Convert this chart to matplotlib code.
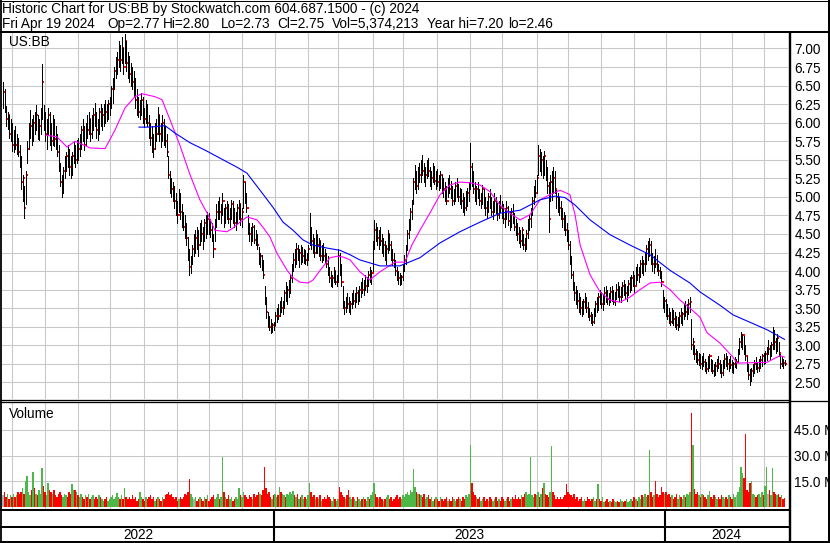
import numpy as np
import pandas as pd
import matplotlib
matplotlib.use('Agg')
import matplotlib.pyplot as plt
from matplotlib.lines import Line2D

W, H = 830, 543
plt.rcParams['font.family'] = ['Liberation Sans', 'DejaVu Sans']
FS = 9.8

first_day = '2022-04-22'

# daily bars, US:BB  (high / low / close)
hi_2022 = [6.55,6.45,6.22,6.15,6.10,6.05,6.00,5.90,5.95,5.85,5.80,5.70,5.55,5.30,5.15,5.35,5.75,6.00,6.17,6.05,
           6.10,6.15,6.24,6.10,6.05,6.20,6.79,6.24,6.15,6.05,6.20,6.15,6.00,6.10,6.05,5.95,5.85,5.70,5.45,5.30,
           5.40,5.55,5.60,5.70,5.65,5.55,5.60,5.75,5.70,5.77,5.80,5.85,5.95,6.05,5.95,6.00,6.10,6.14,6.05,6.10,
           6.20,6.27,6.15,6.05,6.20,6.25,6.20,6.25,6.31,6.25,6.30,6.35,6.50,6.60,6.75,6.89,6.95,7.10,7.05,7.15,
           7.00,7.20,7.10,6.95,6.90,6.80,6.75,6.70,6.60,6.45,6.35,6.30,6.40,6.35,6.20,6.30,6.25,6.10,6.00,5.95,
           5.85,6.00,6.05,6.21,6.10,6.00,6.10,6.05,5.95,5.85,5.55,5.35,5.25,5.20,5.15,5.05,4.95,5.10,5.05,4.90,
           4.80,4.75,4.65,4.46,4.30,4.20,4.35,4.50,4.55,4.60,4.55,4.65,4.69,4.60,4.70,4.75,4.80,4.78,4.70,4.65,
           4.50,4.70,4.90,4.95,5.00,4.90,5.05,4.85,4.90,4.95,4.90,4.85,4.96,4.95,4.85,4.80,4.90,4.96,4.90,4.85,
           5.30,5.20,5.05,4.75,4.65,4.60,4.65,4.62,4.55,4.50,4.32,4.25,4.22,4.15,3.80,3.65,3.45,3.40,3.35,3.30,
           3.32]
lo_2022 = [6.20,6.15,5.95,5.92,5.80,5.75,5.62,5.60,5.65,5.58,5.55,5.40,5.10,4.95,4.72,4.90,5.45,5.65,5.80,5.70,
           5.75,5.85,5.90,5.78,5.77,5.85,6.05,5.90,5.75,5.65,5.85,5.70,5.63,5.70,5.68,5.65,5.55,5.35,5.15,5.00,
           5.05,5.25,5.35,5.40,5.30,5.25,5.30,5.45,5.40,5.45,5.50,5.55,5.65,5.75,5.63,5.70,5.80,5.85,5.75,5.80,
           5.90,5.95,5.80,5.77,5.85,5.95,5.90,5.95,6.00,6.02,6.05,6.10,6.20,6.27,6.45,6.60,6.65,6.75,6.70,6.80,
           6.65,6.80,6.70,6.60,6.55,6.50,6.45,6.35,6.20,6.10,6.08,6.05,6.10,6.00,5.94,6.00,5.95,5.80,5.70,5.60,
           5.54,5.65,5.75,5.85,5.75,5.67,5.75,5.70,5.67,5.55,5.25,5.05,5.00,4.95,4.85,4.75,4.65,4.80,4.70,4.60,
           4.55,4.45,4.35,4.15,3.95,3.97,4.10,4.20,4.25,4.30,4.20,4.35,4.40,4.30,4.40,4.45,4.50,4.50,4.46,4.40,
           4.19,4.40,4.60,4.70,4.70,4.65,4.75,4.60,4.65,4.70,4.65,4.60,4.70,4.65,4.60,4.55,4.65,4.70,4.62,4.60,
           4.85,4.92,4.80,4.50,4.40,4.35,4.40,4.38,4.35,4.30,4.10,4.05,4.01,3.90,3.55,3.37,3.25,3.20,3.17,3.18,
           3.20]
cl_2022 = [6.41,6.20,6.05,6.10,5.85,5.95,5.70,5.80,5.70,5.75,5.60,5.45,5.20,5.25,4.85,5.30,5.65,5.90,5.95,5.85,
           6.00,5.95,6.10,5.85,5.95,6.10,6.55,6.00,5.85,5.95,6.10,5.80,5.75,6.00,5.78,5.70,5.60,5.40,5.20,5.10,
           5.35,5.45,5.55,5.50,5.40,5.35,5.55,5.60,5.50,5.70,5.65,5.80,5.90,5.85,5.70,5.95,5.90,6.05,5.85,6.00,
           6.10,6.05,5.90,5.85,6.15,6.05,6.10,6.20,6.15,6.10,6.25,6.30,6.45,6.55,6.70,6.80,6.85,6.95,6.85,7.00,
           6.75,7.10,6.80,6.70,6.65,6.60,6.55,6.45,6.30,6.20,6.15,6.25,6.30,6.10,6.05,6.20,6.00,5.90,5.80,5.70,
           5.65,5.90,5.85,6.10,5.85,5.80,6.00,5.80,5.75,5.60,5.30,5.15,5.10,5.05,4.95,4.85,4.75,5.00,4.80,4.70,
           4.60,4.55,4.45,4.25,4.05,4.15,4.30,4.30,4.45,4.40,4.35,4.55,4.50,4.45,4.65,4.55,4.70,4.60,4.55,4.45,
           4.30,4.65,4.80,4.85,4.80,4.85,4.95,4.70,4.85,4.80,4.70,4.80,4.90,4.75,4.65,4.75,4.85,4.90,4.70,4.80,
           5.20,5.00,4.85,4.55,4.50,4.45,4.60,4.42,4.40,4.35,4.15,4.20,4.05,3.95,3.60,3.45,3.30,3.25,3.22,3.28,
           3.26]
hi_2023 = [3.45,3.50,3.55,3.60,3.65,3.60,3.75,3.85,3.80,3.88,3.95,4.10,4.25,4.30,4.38,4.35,4.30,4.35,4.32,4.30,
           4.28,4.25,4.35,4.78,4.60,4.50,4.45,4.55,4.50,4.45,4.40,4.35,4.38,4.30,4.25,4.20,4.05,4.00,3.95,4.06,
           4.00,3.95,4.30,4.24,4.10,3.80,3.60,3.65,3.70,3.65,3.60,3.70,3.75,3.70,3.78,3.75,3.80,3.85,3.90,3.88,
           3.95,3.92,4.00,4.05,4.01,4.40,4.69,4.65,4.60,4.55,4.60,4.50,4.45,4.40,4.35,4.55,4.50,4.40,4.30,4.25,
           4.15,4.05,4.00,3.98,3.95,4.10,4.21,4.35,4.55,4.70,4.85,4.96,5.25,5.43,5.35,5.40,5.45,5.50,5.56,5.45,
           5.40,5.50,5.52,5.40,5.35,5.45,5.42,5.35,5.38,5.30,5.35,5.30,5.25,5.20,5.15,5.25,5.30,5.22,5.15,5.10,
           5.20,5.25,5.18,5.12,5.10,5.05,5.00,5.08,5.12,5.20,5.72,5.45,5.35,5.20,5.15,5.20,5.10,5.05,5.16,5.10,
           5.00,4.95,5.05,5.10,5.00,4.95,5.05,5.00,4.92,4.95,5.02,4.95,4.90,4.85,4.95,4.88,4.80,4.85,4.90,4.78,
           4.70,4.65,4.60,4.55,4.60,4.50,4.45,4.55,4.70,4.76,4.85,5.00,5.15,5.23,5.30,5.70,5.65,5.60,5.55,5.62,
           5.50,5.40,5.20,5.30,5.35,5.40,5.35,5.09,5.05,5.00,4.95,4.85,4.80,4.75,4.65,4.55,4.40,4.20,4.00,3.85,
           3.80,3.75,3.70,3.65,3.60,3.62,3.70,3.65,3.58,3.50,3.45,3.42,3.50,3.60,3.65,3.70,3.75,3.72,3.68,3.78,
           3.80,3.75,3.70,3.78,3.80,3.75,3.72,3.82,3.85,3.80,3.78,3.85,3.88,3.82,3.80,3.88,3.92,3.95,4.00,3.95,
           4.05,4.10,4.05,4.15,4.20,4.15,4.25,4.35,4.40,4.45,4.40,4.25,4.20,4.30,4.21,4.10,4.05,4.00,3.75,3.65]
lo_2023 = [3.28,3.32,3.35,3.40,3.45,3.42,3.50,3.60,3.55,3.65,3.70,3.85,4.00,4.05,4.10,4.15,4.05,4.10,4.12,4.11,
           4.10,4.08,4.15,4.35,4.30,4.25,4.19,4.25,4.25,4.20,4.15,4.12,4.15,4.11,4.05,3.95,3.85,3.80,3.79,3.85,
           3.82,3.80,3.85,3.95,3.80,3.50,3.42,3.45,3.50,3.45,3.42,3.50,3.55,3.52,3.58,3.55,3.60,3.65,3.70,3.68,
           3.75,3.72,3.80,3.85,3.82,4.00,4.30,4.40,4.35,4.30,4.35,4.25,4.20,4.15,4.10,4.25,4.28,4.15,4.08,4.05,
           3.95,3.88,3.82,3.81,3.82,3.88,4.00,4.10,4.28,4.45,4.55,4.70,4.90,5.10,5.05,5.10,5.20,5.20,5.30,5.20,
           5.15,5.25,5.28,5.15,5.10,5.20,5.18,5.10,5.15,5.09,5.12,5.05,5.00,4.95,4.90,5.00,5.05,4.98,4.89,4.90,
           4.95,5.00,4.95,4.90,4.85,4.80,4.76,4.82,4.88,4.95,5.10,5.15,5.05,4.95,4.90,4.98,4.89,4.85,4.90,4.85,
           4.75,4.72,4.80,4.85,4.75,4.70,4.80,4.78,4.69,4.72,4.80,4.72,4.65,4.60,4.70,4.62,4.55,4.60,4.65,4.55,
           4.48,4.42,4.38,4.32,4.35,4.30,4.27,4.30,4.45,4.55,4.60,4.75,4.90,5.00,5.05,5.30,5.35,5.30,5.25,5.30,
           5.23,5.05,4.52,4.95,4.96,5.05,5.05,4.85,4.80,4.76,4.70,4.60,4.55,4.49,4.40,4.30,4.10,3.90,3.75,3.61,
           3.55,3.50,3.45,3.42,3.40,3.42,3.50,3.45,3.38,3.34,3.30,3.28,3.30,3.40,3.45,3.48,3.55,3.50,3.48,3.55,
           3.58,3.55,3.54,3.58,3.60,3.55,3.54,3.62,3.65,3.60,3.58,3.65,3.68,3.62,3.60,3.68,3.72,3.75,3.80,3.72,
           3.82,3.88,3.85,3.92,3.98,3.95,4.00,4.10,4.15,4.20,4.10,4.00,3.98,4.05,4.00,3.95,3.90,3.80,3.50,3.45]
cl_2023 = [3.40,3.45,3.40,3.55,3.50,3.55,3.70,3.65,3.75,3.80,3.90,4.05,4.15,4.10,4.30,4.20,4.25,4.15,4.20,4.25,
           4.15,4.20,4.30,4.55,4.40,4.30,4.25,4.45,4.35,4.40,4.20,4.30,4.20,4.15,4.10,4.00,3.90,3.85,3.90,4.00,
           3.85,3.92,4.20,4.05,3.85,3.55,3.50,3.60,3.55,3.50,3.55,3.65,3.60,3.65,3.70,3.62,3.75,3.80,3.75,3.85,
           3.80,3.88,3.95,3.90,3.98,4.35,4.55,4.50,4.45,4.50,4.40,4.30,4.35,4.20,4.30,4.50,4.35,4.20,4.15,4.10,
           4.00,3.95,3.90,3.85,3.92,4.05,4.15,4.30,4.50,4.65,4.80,4.90,5.20,5.30,5.15,5.35,5.30,5.40,5.35,5.25,
           5.30,5.45,5.35,5.20,5.25,5.40,5.22,5.30,5.20,5.15,5.30,5.15,5.10,5.00,4.95,5.20,5.10,5.05,4.95,5.05,
           5.15,5.10,5.00,5.05,4.95,4.90,4.85,5.00,5.05,5.10,5.40,5.25,5.10,5.00,5.10,5.05,4.95,5.00,5.10,4.90,
           4.85,4.80,5.00,4.95,4.80,4.85,4.95,4.85,4.75,4.90,4.85,4.80,4.70,4.75,4.85,4.68,4.65,4.80,4.70,4.60,
           4.55,4.50,4.45,4.40,4.55,4.35,4.32,4.50,4.65,4.70,4.80,4.95,5.10,5.05,5.25,5.55,5.45,5.50,5.35,5.55,
           5.30,5.15,4.70,5.20,5.30,5.25,5.10,5.00,4.90,4.85,4.80,4.70,4.65,4.55,4.45,4.35,4.15,3.95,3.80,3.70,
           3.62,3.60,3.55,3.50,3.45,3.58,3.60,3.50,3.42,3.40,3.35,3.32,3.45,3.55,3.50,3.65,3.60,3.55,3.62,3.70,
           3.65,3.62,3.60,3.72,3.65,3.58,3.68,3.75,3.70,3.65,3.72,3.80,3.75,3.70,3.78,3.82,3.85,3.90,3.85,3.80,
           4.00,3.95,4.00,4.10,4.05,4.10,4.20,4.30,4.25,4.35,4.15,4.10,4.15,4.10,4.05,4.00,3.95,3.85,3.55,3.60]
hi_2024 = [3.62,3.55,3.50,3.45,3.50,3.48,3.45,3.40,3.38,3.45,3.50,3.45,3.55,3.60,3.55,3.62,3.65,3.35,3.10,3.00,
           2.95,2.92,2.90,2.88,2.85,2.90,2.82,2.78,2.85,2.88,2.82,2.80,2.75,2.78,2.82,2.85,2.80,2.75,2.80,2.88,
           2.90,2.85,2.82,2.86,2.80,2.78,2.84,2.82,2.95,3.10,3.18,3.15,3.12,3.00,2.85,2.75,2.68,2.70,2.75,2.80,
           2.84,2.78,2.82,2.85,2.88,2.90,2.92,2.98,3.07,3.00,3.05,3.25,3.20,3.10,3.15,3.05,2.88,2.85,2.82,2.80]
lo_2024 = [3.40,3.35,3.30,3.27,3.30,3.28,3.25,3.22,3.21,3.25,3.30,3.28,3.35,3.40,3.35,3.42,3.45,2.95,2.88,2.82,
           2.78,2.75,2.73,2.70,2.68,2.72,2.65,2.62,2.66,2.70,2.65,2.62,2.58,2.60,2.66,2.70,2.62,2.57,2.60,2.70,
           2.72,2.68,2.65,2.70,2.64,2.62,2.71,2.70,2.78,2.88,2.98,2.95,2.88,2.80,2.65,2.55,2.46,2.52,2.58,2.63,
           2.68,2.64,2.66,2.70,2.72,2.75,2.76,2.80,2.88,2.82,2.85,2.95,2.95,2.90,2.92,2.85,2.70,2.72,2.70,2.73]
cl_2024 = [3.45,3.40,3.35,3.32,3.45,3.35,3.30,3.28,3.30,3.40,3.35,3.42,3.50,3.45,3.50,3.55,3.58,3.00,3.05,2.88,
           2.85,2.80,2.85,2.75,2.80,2.78,2.70,2.68,2.80,2.85,2.72,2.65,2.62,2.72,2.78,2.75,2.66,2.62,2.75,2.82,
           2.80,2.75,2.78,2.74,2.70,2.75,2.78,2.78,2.90,3.05,3.12,3.14,2.95,2.85,2.70,2.60,2.55,2.65,2.70,2.75,
           2.72,2.70,2.78,2.80,2.85,2.82,2.88,2.95,2.95,2.90,3.00,3.15,3.05,2.95,3.10,2.90,2.75,2.80,2.76,2.75]

# daily volume, millions of shares
vol_2022 = [7,9,6,8,5,7,6,8,6,7,9,8, 9,11.5,8,15.4,18.3,9,7,10,20.6,11.5,8,7, 10,8,22.5,12.5,9,7,14,10,9,8,10,7,
            6,8,9,7,6,8,7,6,9,8,13.5,10, 10,9,7,6,8,6,5,7,6,8,5,6, 7,5,6,5,7,6,5,4,5,6,4,5,
            6,7,5,6,8.5,6,5,7,5,11,6,5, 6,5,7,5,6,4,5,9,6,5,4,6, 5,6,7,5,6,4,5,6,5,4,6,5,
            7,8,9,7,8,6,5,6,4,5,6,5, 6,8,7,9,16.7,8,6,5,6,4,5,6, 5,4,6,5,7,4,5,6,7,5,6,8,
            5,6,29.3,9,6,5,7,5,6,4,5,6, 5,11,7,6,9,7,6,5,7,6,5,8, 6,7,9,8,7,10,23.5,11,8,9,6,5,7]
vol_2023 = [8,6,7,12,9,8,7,6,8,7,9,8, 9.5,7,6,8,5,6,7,5,6,5,7,14, 9,6,7,5,6,5,7,4,5,6,5,7,
            6,5,4,6,5,4,5,12,9,7,6,5, 7,10,6,5,6,5,4,6,5,4,5,6, 5,4,6,5,7,9,14,8,6,5,6,5,
            4,5,6,7,5,6,4,5,6,7,5,6, 5,7,6,8,9,7,10,9,22,12,9,8, 8,7,6,8,5,6,7,5,6,4,5,6,
            5,4,6,5,4,5,6,4,5,4,6,5, 4,5,6,5,4,6,5,7,6,8,36,14, 9,7,6,5,6,4,5,6,4,5,4,6,
            5,4,5,6,4,5,4,6,5,4,5,6, 4,5,6,5,7,5,6,5,7,6,8,9, 7,8,29,7,6,8,7,9,6,8,11.5,14,
            8,7,6,9,35.6,9,7,5,6,5,6,5, 6,7,13.5,9,8,7,6,8,5,6,4,5, 6,4,5,4,6,5,4,5,6,4,5,13.5,
            5,4,6,3,4,5,3,4,3,5,4,3, 4,3,5,4,3,4,5,3,4,5,4,6, 5,4,6,5,7,6,8,6,7,33,9,6,
            7,15.5,8,6,7,12,9,8]
vol_2024 = [9,7,8,6,7,5,6,8,5,7,6,5, 7,6,8,7,9,54.4,36,10.5,8,9,7,6, 8,7,6,5,7,9.5,6,5,7,6,5,6,
            5,7,6,5,6,5,7,6,5,8,6,7, 9,12,23.5,20,17,42.6,10,9,14,15,8,7, 6,7,8,6,9,7,12.5,23.5,8,10,7,23,
            9,8,7,8,6,7,5,5.4]

# moving averages (bar number, price)
ma_fast_i = [28.6,35.9,42.6,47.9,57.9,67.9,74.5,81.2,87.8,92.5,101.1,105.8,111.1,117.8,124.4,131,136.4,141,149,153,
             157.7,162.3,169,173,177.6,182.3,189,193,197.6,203,206.3,211,217.6,222.2,226.2,231,237.5,244,250.8,260.8,
             267.5,272,277.4,284,290.8,297.4,304,310.7,317.4,324,330.7,337.3,344,350.6,357.3,364,370.6,377.2,380.6,384,
             390.6,397.2,403.9,410.5,417.2,423.8,430.5,437,443.8,450.4,457,463.7,468.4,477,485.7,488.4,508.3,517,520]
ma_fast_v = [5.83,5.81,5.67,5.75,5.66,5.65,5.90,6.20,6.35,6.39,6.35,6.31,6.04,5.69,5.30,4.96,4.76,4.55,4.53,4.58,
             4.66,4.73,4.69,4.59,4.46,4.24,4.01,3.91,3.85,3.84,3.88,4.01,4.18,4.20,4.19,4.15,3.99,3.88,3.99,4.12,
             4.12,4.35,4.55,4.78,5.03,5.16,5.20,5.19,5.16,5.07,4.89,4.78,4.69,4.76,4.96,5.03,5.09,5.03,4.76,4.35,
             3.95,3.72,3.61,3.58,3.65,3.75,3.84,3.85,3.75,3.61,3.50,3.38,3.17,3.03,2.84,2.76,2.77,2.86,2.84]
ma_slow_i = [90.5,97.8,107.8,114.4,124.4,134.4,146.4,155.7,162.3,171,179.6,186.3,193,199.6,206.3,215.6,224.2,230.9,
             237.5,250.8,264,277.4,290.8,304,317.4,330.7,344,357.3,367.3,374,380.6,390.6,403.9,417.2,430.5,443.8,
             457,463.7,477,485.7,497,508.3,520]
ma_slow_v = [5.94,5.94,5.96,5.86,5.73,5.63,5.50,5.40,5.32,5.09,4.86,4.66,4.55,4.42,4.35,4.31,4.28,4.22,
             4.15,4.07,4.07,4.18,4.38,4.53,4.66,4.78,4.82,4.96,5.01,4.99,4.89,4.69,4.49,4.35,4.22,4.01,
             3.84,3.72,3.54,3.41,3.31,3.21,3.08]

price_ticks = np.arange(2.5, 7.01, 0.25)
vol_ticks = [15, 30, 45]

hi = np.array(hi_2022 + hi_2023 + hi_2024)
lo = np.array(lo_2022 + lo_2023 + lo_2024)
cl = np.array(cl_2022 + cl_2023 + cl_2024)
vol = np.array(vol_2022 + vol_2023 + vol_2024, dtype=float)
n = len(cl)
assert len(hi) == n and len(lo) == n and len(vol) == n, (len(hi), len(lo), len(cl), len(vol))
idx = np.arange(n)
days = pd.bdate_range(first_day, periods=n)

month_start = [i for i in range(1, n) if days[i].month != days[i - 1].month]
year_start = [i for i in range(1, n) if days[i].year != days[i - 1].year]

chg = np.diff(cl, prepend=cl[0])
vcol = np.where(chg > 0, '#4cb848', np.where(chg < 0, '#ff0000', '#b0b0b0'))

fig = plt.figure(figsize=(W / 100, H / 100), dpi=100)


def box(x0, y0, x1, y1):
    return [x0 / W, 1 - y1 / H, (x1 - x0) / W, (y1 - y0) / H]


def hline(y, x0, x1, lw):
    fig.add_artist(Line2D([x0 / W, x1 / W], [1 - y / H, 1 - y / H], color='k',
                          lw=lw * 0.72, solid_capstyle='butt'))


def vline(x, y0, y1, lw):
    fig.add_artist(Line2D([x / W, x / W], [1 - y0 / H, 1 - y1 / H], color='k',
                          lw=lw * 0.72, solid_capstyle='butt'))


XL = (-0.67, 522.3)
GRID = '#c8c8c8'

# price panel
ax = fig.add_axes(box(2, 32, 788, 399))
ax.set_xlim(*XL)
ax.set_ylim(2.276, 7.222)
for i in month_start:
    ax.axvline(i, color=GRID, lw=0.75, zorder=0)
for p in price_ticks:
    ax.axhline(p, color=GRID, lw=0.75, zorder=0)
# close ticks sit just right of each bar, partly hidden by the next bar
ax.plot(idx + 0.9, cl, ls='none', marker='s', ms=1.5, mew=0, color='#ff0000', zorder=1)
ax.vlines(idx, lo, hi, colors='k', lw=0.72, antialiased=False, zorder=2)
ax.plot(ma_fast_i, ma_fast_v, color='#ff00ff', lw=0.8, zorder=4)
ax.plot(ma_slow_i, ma_slow_v, color='#0000ff', lw=0.8, zorder=4)
ax.yaxis.tick_right()
ax.set_yticks(price_ticks, ['%.2f' % p for p in price_ticks])
ax.tick_params(axis='y', length=0, pad=4.5, labelsize=FS)
ax.set_xticks([])
for s in ax.spines.values():
    s.set_visible(False)

# volume panel
av = fig.add_axes(box(2, 402, 788, 509))
av.set_xlim(*XL)
av.set_ylim(-0.9, 60.9)
for i in month_start:
    av.axvline(i, color=GRID, lw=0.75, zorder=0)
for v in vol_ticks:
    av.axhline(v, color=GRID, lw=0.75, zorder=0)
av.bar(idx, vol, width=1.0, color=vcol, lw=0, antialiased=False, zorder=2)
av.yaxis.tick_right()
av.set_yticks(vol_ticks, ['%.1f M' % v for v in vol_ticks])
av.tick_params(axis='y', length=0, pad=4.5, labelsize=FS)
av.set_xticks([])
for s in av.spines.values():
    s.set_visible(False)

# year strip
ad = fig.add_axes(box(2, 509, 788, 541))
ad.set_xlim(*XL)
ad.set_ylim(0, 1)
ad.axis('off')
bounds = [XL[0]] + [i - 0.5 for i in year_start] + [XL[1]]
for i in year_start:
    ad.axvline(i - 0.5, color='k', lw=1.5)
for k in range(len(bounds) - 1):
    ad.text((bounds[k] + bounds[k + 1]) / 2, 0.05, str(days[0].year + k), ha='center', va='baseline', fontsize=FS)

# frame and separators
hline(0.5, 0, W, 1)
hline(31.5, 0, W, 2)
hline(399.8, 0, 789, 1.3)
hline(402.3, 0, 789, 1.3)
hline(400.5, 789, W, 1.3)
hline(509.8, 0, 789, 2)
hline(526.8, 0, 789, 2)
hline(541.5, 0, W, 2)
vline(0.9, 0, H, 1.8)
vline(789.5, 31, 542.5, 2.4)
vline(828.6, 0, H, 2)

# header text
fig.text(2 / W, 1 - 13.3 / H, 'Historic Chart for US:BB by Stockwatch.com 604.687.1500 - (c) 2024',
         fontsize=FS, va='baseline')
for x, s in [(2, 'Fri Apr 19 2024'), (107, 'Op=2.77'), (163, 'Hi=2.80'), (221, 'Lo=2.73'),
             (277, 'Cl=2.75'), (332, 'Vol=5,374,213'), (427, 'Year hi=7.20'), (508, 'lo=2.46')]:
    fig.text(x / W, 1 - 28.3 / H, s, fontsize=FS, va='baseline')
fig.text(9 / W, 1 - 46 / H, 'US:BB', fontsize=FS, va='baseline')
fig.text(9 / W, 1 - 417.7 / H, 'Volume', fontsize=FS, va='baseline')

fig.savefig('out.png', dpi=100)
